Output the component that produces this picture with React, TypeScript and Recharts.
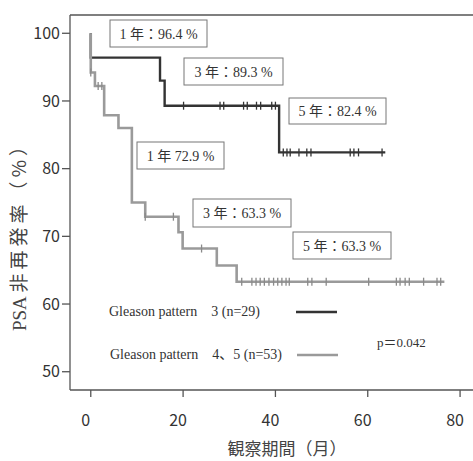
import { CartesianGrid, ComposedChart, Line, ReferenceLine, Scatter, XAxis, YAxis } from 'recharts'

document.body.style.margin = '0'

// Kaplan-Meier steps (months, %)
const g3Times = [0, 0, 15, 16, 40.8, 63.8]
const g3Surv = [100, 96.4, 93.0, 89.3, 82.4, 82.4]
const g3Censored = [20.1, 28.0, 28.8, 33.1, 33.9, 35.9, 36.8, 39.2, 40.0, 41.7, 42.5, 43.2, 45.1, 46.8, 47.7, 56.2, 57.0, 58.0, 63.1]

const g45Times = [0, 0, 0.9, 2.9, 6.0, 8.9, 11.8, 19.0, 19.9, 27.3, 31.6, 76.6]
const g45Surv = [100, 94.2, 92.2, 87.9, 86.0, 75.0, 72.9, 70.6, 68.2, 65.7, 63.3, 63.3]
const g45Censored = [
  0, 1.6, 2.4, 11.8, 17.9, 24.0, 32.7, 34.9, 35.8, 36.7, 37.6, 38.6, 39.6, 40.5, 41.4, 42.3, 43.0,
  47.0, 47.9, 51.0, 60.2, 66.2, 67.0, 68.1, 69.0, 72.1, 75.0, 75.8,
]

const xTicks = [0, 20, 40, 60, 80]
const yTicks = [50, 60, 70, 80, 90, 100]

const notes = [
  { text: '1 年：96.4 %', x: 110, y: 20, w: 97, h: 27 },
  { text: '3 年：89.3 %', x: 184, y: 58, w: 99, h: 27 },
  { text: '5 年：82.4 %', x: 289, y: 98, w: 97, h: 26 },
  { text: '1 年 72.9 %', x: 137, y: 142, w: 87, h: 27 },
  { text: '3 年：63.3 %', x: 193, y: 199, w: 98, h: 28 },
  { text: '5 年：63.3 %', x: 293, y: 232, w: 98, h: 27 },
]

const serif = '"Liberation Serif", "DejaVu Serif", "Noto Sans CJK JP", serif'
const gothic = '"Noto Sans CJK JP", "Noto Sans", sans-serif'

function survAt(times: number[], surv: number[], t: number) {
  let s = surv[0]
  for (let i = 0; i < times.length; i++) {
    if (times[i] <= t + 1e-9) s = surv[i]
  }
  return s
}

const g3Line = g3Times.map((t, i) => ({ t, s: g3Surv[i] }))
const g45Line = g45Times.map((t, i) => ({ t, s: g45Surv[i] }))
const g3Marks = g3Censored.map((t) => ({ t, s: survAt(g3Times, g3Surv, t) }))
const g45Marks = g45Censored.map((t) => ({ t, s: survAt(g45Times, g45Surv, t) }))

const censorShape = (color: string) => (props: any) => {
  const { cx, cy } = props
  return <line x1={cx} x2={cx} y1={cy - 4} y2={cy + 4} stroke={color} strokeWidth={1.3} />
}

export default function App() {
  return (
    <div style={{ position: 'relative', width: 473, height: 461, background: '#fff' }}>
      <ComposedChart width={473} height={461} margin={{ top: 15, right: 0, bottom: 0, left: 0 }}>
        <CartesianGrid stroke="none" />
        <XAxis
          dataKey="t"
          type="number"
          domain={[-4.5, 82.8]}
          ticks={xTicks}
          allowDataOverflow
          height={71}
          stroke="#555"
          strokeWidth={1.3}
          tickSize={7}
          tick={{ fill: '#333', fontSize: 16, fontFamily: gothic, dx: -5, dy: 16 }}
        />
        <YAxis
          dataKey="s"
          type="number"
          domain={[47.3, 102.7]}
          ticks={yTicks}
          allowDataOverflow
          width={70}
          stroke="#555"
          strokeWidth={1.3}
          tickSize={8}
          tick={{ fill: '#333', fontSize: 16, fontFamily: gothic }}
        />
        <ReferenceLine y={102.7} stroke="#555" strokeWidth={1.5} />
        <Line data={g3Line} dataKey="s" type="stepAfter" stroke="#333" strokeWidth={2.4} dot={false} isAnimationActive={false} />
        <Line data={g45Line} dataKey="s" type="stepAfter" stroke="#9a9a9a" strokeWidth={2.6} dot={false} isAnimationActive={false} />
        <Scatter data={g45Marks} dataKey="s" shape={censorShape('#8a8a8a')} isAnimationActive={false} />
        <Scatter data={g3Marks} dataKey="s" shape={censorShape('#333')} isAnimationActive={false} />
      </ComposedChart>
      <svg width={473} height={461} style={{ position: 'absolute', left: 0, top: 0, pointerEvents: 'none' }}>
        <text transform="translate(26 232) rotate(-90)" textAnchor="middle" fill="#444" fontSize={19}>
          <tspan fontFamily={serif}>PSA </tspan>
          <tspan fontFamily={gothic} style={{ letterSpacing: 4 }}>非再発率（%）</tspan>
        </text>
        <text x={287} y={455} textAnchor="middle" fill="#444" fontSize={17} fontFamily={gothic}>観察期間（月）</text>
        {notes.map((n) => (
          <g key={n.text + n.x}>
            <rect x={n.x} y={n.y} width={n.w} height={n.h} fill="#fff" stroke="#777" strokeWidth={1} />
            <text x={n.x + n.w / 2} y={n.y + n.h / 2 + 5} textAnchor="middle" fill="#333" fontSize={14} fontFamily={serif}>
              {n.text}
            </text>
          </g>
        ))}
        <text x={109} y={316} fill="#333" fontSize={14} fontFamily={serif}>Gleason pattern　3 (n=29)</text>
        <line x1={296} x2={337} y1={312} y2={312} stroke="#333" strokeWidth={2.5} />
        <text x={110} y={359} fill="#333" fontSize={14} fontFamily={serif}>Gleason pattern　4、5 (n=53)</text>
        <line x1={297} x2={338} y1={355} y2={355} stroke="#9a9a9a" strokeWidth={2.5} />
        <text x={377} y={347} fill="#333" fontSize={13} fontFamily={serif}>p＝0.042</text>
      </svg>
    </div>
  )
}
